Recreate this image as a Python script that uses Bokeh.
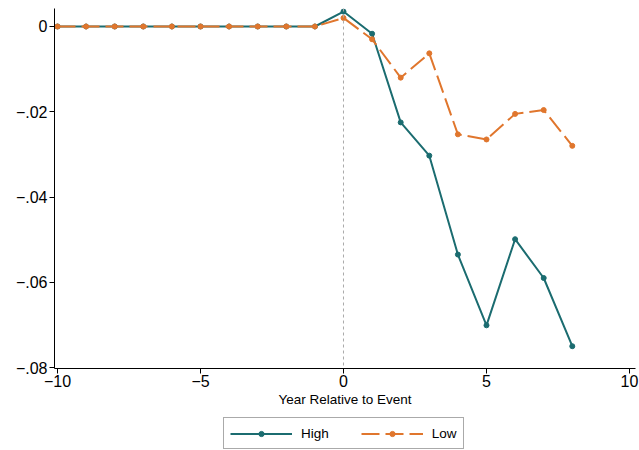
from bokeh.plotting import figure
from bokeh.models import Range1d, Span, Legend, LegendItem, CustomJSTickFormatter, FixedTicker
from bokeh.layouts import column
from bokeh.embed import file_html
from bokeh.resources import INLINE

years = [-10, -9, -8, -7, -6, -5, -4, -3, -2, -1, 0, 1, 2, 3, 4, 5, 6, 7, 8]
high = [0, 0, 0, 0, 0, 0, 0, 0, 0, 0,
        0.0035, -0.0017, -0.0225, -0.0303, -0.0535, -0.0701, -0.0499, -0.0590, -0.0750]
low = [0, 0, 0, 0, 0, 0, 0, 0, 0, 0,
       0.0020, -0.0030, -0.0120, -0.0063, -0.0253, -0.0265, -0.0205, -0.0196, -0.0280]
x_ticks = [-10, -5, 0, 5, 10]
y_ticks = [0, -0.02, -0.04, -0.06, -0.08]
x_label = "Year Relative to Event"
series_names = ["High", "Low"]

TEAL = "#1b6c70"
ORANGE = "#e0762d"
FONT = "Liberation Sans"
DASH = "18 6"

p = figure(width=639, height=412, output_backend="svg", toolbar_location=None,
           x_range=Range1d(-10.105, 10.21), y_range=Range1d(-0.08023, 0.00422),
           min_border_left=54, min_border_right=4, min_border_top=8, min_border_bottom=44)
p.outline_line_color = None
p.grid.visible = False
p.background_fill_color = "white"
p.border_fill_color = "white"

p.add_layout(Span(location=0, dimension="height", line_color="#aaaaaa",
                  line_dash="3 3", line_width=1))

p.line(years, high, line_color=TEAL, line_width=2)
p.scatter(years, high, size=5, fill_color=TEAL, line_color=TEAL)
p.line(years, low, line_color=ORANGE, line_width=2, line_dash=DASH)
p.scatter(years, low, size=5, fill_color=ORANGE, line_color=ORANGE)

for ax in (p.xaxis[0], p.yaxis[0]):
    ax.axis_line_color = "black"
    ax.major_tick_line_color = "black"
    ax.major_tick_out = 5
    ax.major_tick_in = 0
    ax.minor_tick_line_color = None
    ax.major_label_text_font = FONT
    ax.major_label_text_font_size = "16px"
    ax.major_label_text_color = "black"

p.xaxis.ticker = FixedTicker(ticks=x_ticks)
p.yaxis.ticker = FixedTicker(ticks=y_ticks)
p.xaxis.formatter = CustomJSTickFormatter(code="""
return (tick < 0 ? "\\u2212" : "") + Math.abs(tick).toFixed(0);
""")
p.yaxis.formatter = CustomJSTickFormatter(code="""
if (Math.abs(tick) < 1e-9) return "0";
const s = Math.abs(tick).toFixed(2).replace(/^0/, "");
return (tick < 0 ? "\\u2212" : "") + s;
""")
p.yaxis.major_label_standoff = 2
p.xaxis.major_label_standoff = 1
p.xaxis.axis_label = x_label
p.xaxis.axis_label_text_font = FONT
p.xaxis.axis_label_text_font_size = "13.5px"
p.xaxis.axis_label_text_font_style = "normal"
p.xaxis.axis_label_text_color = "black"
p.xaxis.axis_label_standoff = 2

# legend panel below the plot (series drawn outside its visible range,
# only used to supply the legend glyphs)
q = figure(width=639, height=38, output_backend="svg", toolbar_location=None,
           x_axis_location=None, y_axis_location=None,
           x_range=Range1d(1000, 1001), y_range=Range1d(1000, 1001),
           min_border=0, min_border_left=0, min_border_right=0,
           min_border_top=0, min_border_bottom=0)
q.outline_line_color = None
q.grid.visible = False
q.border_fill_color = "white"
q.background_fill_color = "white"
ql1 = q.line(years, high, line_color=TEAL, line_width=2)
qs1 = q.scatter(years, high, size=5, fill_color=TEAL, line_color=TEAL)
ql2 = q.line(years, low, line_color=ORANGE, line_width=2, line_dash=DASH)
qs2 = q.scatter(years, low, size=5, fill_color=ORANGE, line_color=ORANGE)

legend = Legend(items=[LegendItem(label=series_names[0], renderers=[ql1, qs1]),
                       LegendItem(label=series_names[1], renderers=[ql2, qs2])],
                orientation="horizontal", location=(169, 1),
                glyph_width=62, glyph_height=13, label_height=18,
                label_standoff=9, spacing=32, padding=6, margin=0,
                border_line_color="#555555", border_line_width=1,
                label_text_font=FONT, label_text_font_size="13.5px",
                label_text_color="black", background_fill_alpha=1.0)
q.add_layout(legend, "center")

layout = column(p, q, spacing=0)
open("out.html", "w").write(file_html(layout, INLINE))
